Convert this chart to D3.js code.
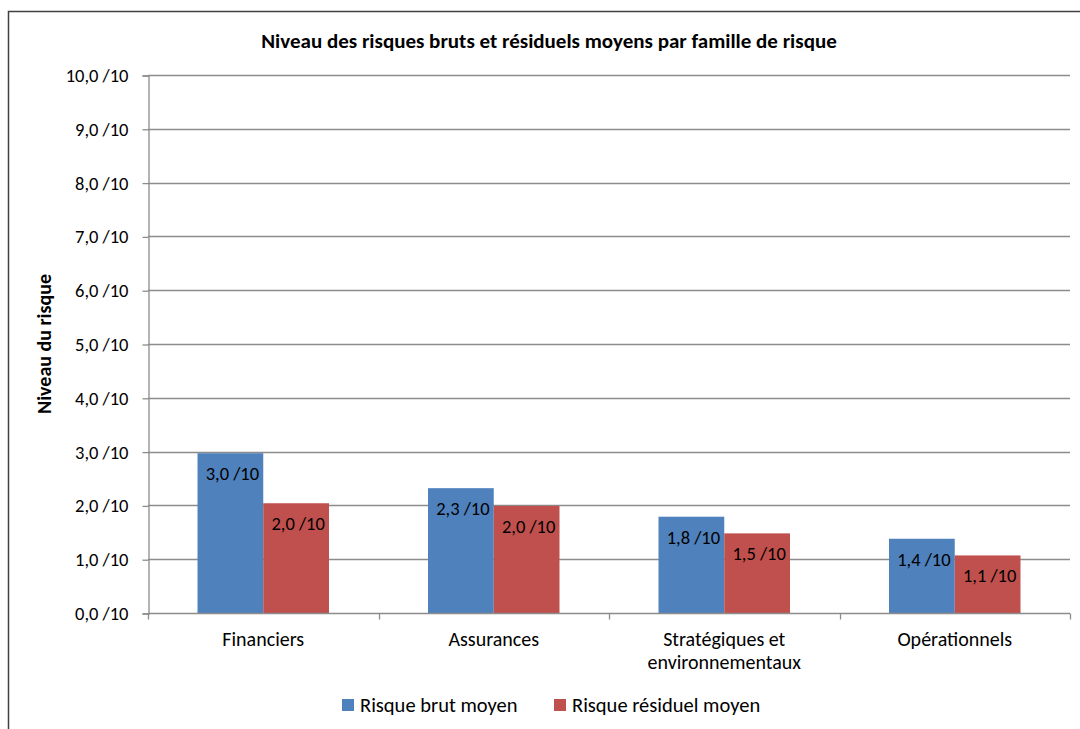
<!DOCTYPE html>
<html>
<head>
<meta charset="utf-8">
<script src="https://cdn.jsdelivr.net/npm/d3@7"></script>
<style>
  body { margin: 0; background: #fff; }
  svg text { font-family: Carlito, Calibri, Lato, sans-serif; fill: #000; }
</style>
</head>
<body>
<div id="chart"></div>
<script>
var categories = [['Financiers'], ['Assurances'], ['Stratégiques et', 'environnementaux'], ['Opérationnels']]
var series = ['Risque brut moyen', 'Risque résiduel moyen']
var brut = [2.97, 2.32, 1.79, 1.38]
var residuel = [2.04, 1.99, 1.48, 1.07]
var yTicks = [0, 1, 2, 3, 4, 5, 6, 7, 8, 9, 10]
var colors = ['#4f81bd', '#c0504d']

var width = 1080, height = 729
var fmt = function(v){ return v.toFixed(1).replace('.', ',') + ' /10' }

var svg = d3.select('#chart').append('svg').attr('width', width).attr('height', height)

// cadre du graphique (coupé en bas et à droite)
svg.append('rect').attr('x', 8.5).attr('y', 11.5).attr('width', 1100).attr('height', 800)
  .attr('fill', 'none').attr('stroke', '#404040').attr('stroke-width', 1.5)

var plot = {left: 148, right: 1070, top: 75, bottom: 613}

var x = d3.scaleBand().domain(d3.range(categories.length)).range([plot.left, plot.right])
var xs = d3.scaleBand().domain(d3.range(series.length))
  .range([(x.bandwidth() - 131.5) / 2, (x.bandwidth() + 131.5) / 2])
var y = d3.scaleLinear().domain([0, 10]).range([plot.bottom, plot.top])

// grille
svg.append('g').selectAll('line').data(yTicks.slice(1)).join('line')
  .attr('x1', plot.left).attr('x2', plot.right)
  .attr('y1', d => Math.round(y(d)) + 0.5).attr('y2', d => Math.round(y(d)) + 0.5)
  .attr('stroke', '#8c8c8c').attr('stroke-width', 1.3)

// axe Y
var yAxis = svg.append('g').attr('transform', 'translate(' + (plot.left + 0.5) + ',0.5)')
  .call(d3.axisLeft(y).tickValues(yTicks).tickSize(6).tickPadding(14).tickFormat(fmt))
yAxis.selectAll('path, line').attr('stroke', '#8c8c8c').attr('stroke-width', 1.3)
yAxis.selectAll('text').style('font-size', '18.5px')

// barres
var rows = categories.map(function(c, i){ return [brut[i], residuel[i]] })
var groups = svg.append('g').selectAll('g').data(rows).join('g')
  .attr('transform', (d, i) => 'translate(' + x(i) + ',0)')

groups.selectAll('rect').data(d => d).join('rect')
  .attr('x', (d, j) => xs(j)).attr('width', xs.bandwidth())
  .attr('y', d => y(d)).attr('height', d => y(0) - y(d))
  .attr('fill', (d, j) => colors[j])

groups.selectAll('text').data(d => d).join('text')
  .attr('x', (d, j) => xs(j) + xs.bandwidth() / 2 + 2)
  .attr('y', d => y(d) + 27)
  .attr('text-anchor', 'middle').style('font-size', '18.5px')
  .text(fmt)

// axe X
var xAxis = svg.append('g').attr('transform', 'translate(0,' + (plot.bottom + 0.5) + ')')
xAxis.append('line').attr('x1', plot.left).attr('x2', plot.right)
  .attr('stroke', '#8c8c8c').attr('stroke-width', 1.3)
xAxis.selectAll('line.tick').data(d3.range(categories.length + 1)).join('line')
  .attr('class', 'tick')
  .attr('x1', i => Math.round(plot.left + i * x.step()) + 0.5)
  .attr('x2', i => Math.round(plot.left + i * x.step()) + 0.5)
  .attr('y1', 0).attr('y2', 6)
  .attr('stroke', '#8c8c8c').attr('stroke-width', 1.3)

var xl = svg.append('g').selectAll('text').data(categories).join('text')
  .attr('x', (d, i) => x(i) + x.bandwidth() / 2)
  .attr('y', 646).attr('text-anchor', 'middle').style('font-size', '20px')
xl.selectAll('tspan').data(d => d).join('tspan')
  .attr('x', function(){ return d3.select(this.parentNode).attr('x') })
  .attr('dy', (d, k) => k ? 23 : 0).text(d => d)

// titres
svg.append('text').attr('x', 549).attr('y', 48).attr('text-anchor', 'middle')
  .style('font-size', '21px').style('font-weight', 'bold')
  .text('Niveau des risques bruts et résiduels moyens par famille de risque')

svg.append('text').attr('transform', 'translate(51,344) rotate(-90)').attr('text-anchor', 'middle')
  .style('font-size', '20px').style('font-weight', 'bold')
  .text('Niveau du risque')

// légende
var legX = [342, 554]
var leg = svg.append('g').selectAll('g').data(series).join('g')
  .attr('transform', (d, i) => 'translate(' + legX[i] + ',699)')
leg.append('rect').attr('width', 12).attr('height', 12).attr('fill', (d, i) => colors[i])
leg.append('text').attr('x', 18).attr('y', 12.5).style('font-size', '20.5px').text(d => d)
</script>
</body>
</html>
